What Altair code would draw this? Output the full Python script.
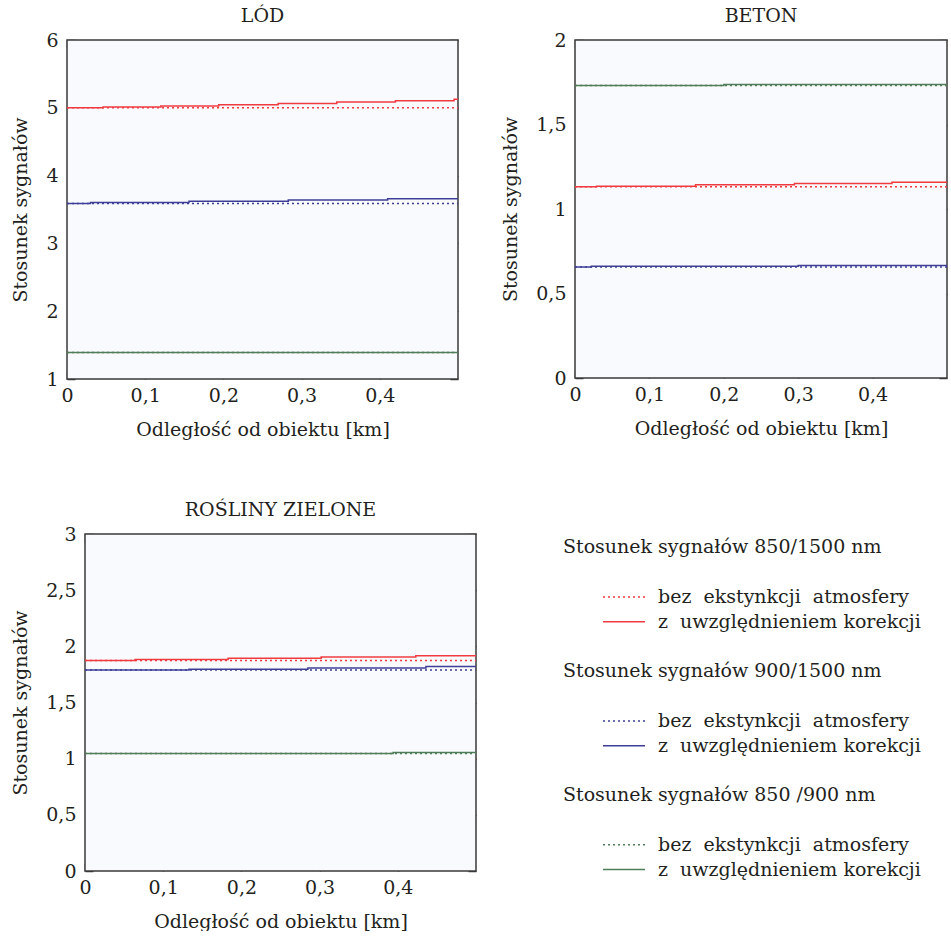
import altair as alt
import pandas as pd

FONT = "DejaVu Serif"
FS = 19
TXT = "#231f20"
FRAME = "#3a3a3a"
PLOT_BG = "#f9fafd"

# ---------------- data: LÓD ----------------
lod_red_corr_x = [0, 0.046, 0.12, 0.194, 0.27, 0.345, 0.42, 0.495, 0.5]
lod_red_corr_y = [5.0, 5.01, 5.025, 5.045, 5.065, 5.085, 5.105, 5.125, 5.125]
lod_red_raw_x = [0, 0.5]
lod_red_raw_y = [5.0, 5.0]
lod_blue_corr_x = [0, 0.03, 0.156, 0.283, 0.41, 0.5]
lod_blue_corr_y = [3.59, 3.605, 3.62, 3.64, 3.66, 3.66]
lod_blue_raw_x = [0, 0.5]
lod_blue_raw_y = [3.59, 3.59]
lod_green_corr_x = [0, 0.5]
lod_green_corr_y = [1.39, 1.39]
lod_green_raw_x = [0, 0.5]
lod_green_raw_y = [1.39, 1.39]

# ---------------- data: BETON ----------------
bet_red_corr_x = [0, 0.029, 0.162, 0.295, 0.426, 0.5]
bet_red_corr_y = [1.131, 1.135, 1.143, 1.151, 1.159, 1.159]
bet_red_raw_x = [0, 0.5]
bet_red_raw_y = [1.131, 1.131]
bet_blue_corr_x = [0, 0.022, 0.3, 0.5]
bet_blue_corr_y = [0.657, 0.661, 0.665, 0.665]
bet_blue_raw_x = [0, 0.5]
bet_blue_raw_y = [0.657, 0.657]
bet_green_corr_x = [0, 0.2, 0.5]
bet_green_corr_y = [1.731, 1.737, 1.737]
bet_green_raw_x = [0, 0.5]
bet_green_raw_y = [1.731, 1.731]

# ---------------- data: ROŚLINY ZIELONE ----------------
ros_red_corr_x = [0, 0.064, 0.183, 0.302, 0.423, 0.5]
ros_red_corr_y = [1.873, 1.882, 1.894, 1.905, 1.917, 1.917]
ros_red_raw_x = [0, 0.5]
ros_red_raw_y = [1.873, 1.873]
ros_blue_corr_x = [0, 0.133, 0.285, 0.436, 0.5]
ros_blue_corr_y = [1.79, 1.796, 1.808, 1.82, 1.82]
ros_blue_raw_x = [0, 0.5]
ros_blue_raw_y = [1.79, 1.79]
ros_green_corr_x = [0, 0.394, 0.5]
ros_green_corr_y = [1.045, 1.054, 1.054]
ros_green_raw_x = [0, 0.5]
ros_green_raw_y = [1.045, 1.045]

# ---------------- labels ----------------
panel_titles = ["LÓD", "BETON", "ROŚLINY ZIELONE"]
y_title = "Stosunek sygnałów"
x_title = "Odległość od obiektu [km]"
x_domain = [0, 0.5]
x_ticks = [0, 0.1, 0.2, 0.3, 0.4]
lod_y_domain = [1, 6]
bet_y_domain = [0, 2]
ros_y_domain = [0, 3]
lod_y_ticks = [1, 2, 3, 4, 5, 6]
bet_y_ticks = [0, 0.5, 1, 1.5, 2]
ros_y_ticks = [0, 0.5, 1, 1.5, 2, 2.5, 3]
series_keys = ["850/1500", "900/1500", "850/900"]
style_keys = ["bez", "z"]
legend_headings = ["Stosunek sygnałów 850/1500 nm",
                   "Stosunek sygnałów 900/1500 nm",
                   "Stosunek sygnałów 850 /900 nm"]
legend_labels = ["bez\u00a0 ekstynkcji\u00a0 atmosfery",
                 "z\u00a0 uwzględnieniem korekcji"]

COLORS = ["#ef3b40", "#3d3f97", "#4f7d58"]
color_scale = alt.Scale(domain=series_keys, range=COLORS)
dash_scale = alt.Scale(domain=style_keys, range=[[2, 3], [1, 0]])


def frame(parts):
    rows = []
    for key, style, xs, ys in parts:
        for x, y in zip(xs, ys):
            rows.append({"x": x, "y": y, "series": key, "style": style,
                         "sid": key + style})
    return pd.DataFrame(rows)


lod_df = frame([
    ("850/1500", "z", lod_red_corr_x, lod_red_corr_y),
    ("850/1500", "bez", lod_red_raw_x, lod_red_raw_y),
    ("900/1500", "z", lod_blue_corr_x, lod_blue_corr_y),
    ("900/1500", "bez", lod_blue_raw_x, lod_blue_raw_y),
    ("850/900", "z", lod_green_corr_x, lod_green_corr_y),
    ("850/900", "bez", lod_green_raw_x, lod_green_raw_y),
])
bet_df = frame([
    ("850/1500", "z", bet_red_corr_x, bet_red_corr_y),
    ("850/1500", "bez", bet_red_raw_x, bet_red_raw_y),
    ("900/1500", "z", bet_blue_corr_x, bet_blue_corr_y),
    ("900/1500", "bez", bet_blue_raw_x, bet_blue_raw_y),
    ("850/900", "z", bet_green_corr_x, bet_green_corr_y),
    ("850/900", "bez", bet_green_raw_x, bet_green_raw_y),
])
ros_df = frame([
    ("850/1500", "z", ros_red_corr_x, ros_red_corr_y),
    ("850/1500", "bez", ros_red_raw_x, ros_red_raw_y),
    ("900/1500", "z", ros_blue_corr_x, ros_blue_corr_y),
    ("900/1500", "bez", ros_blue_raw_x, ros_blue_raw_y),
    ("850/900", "z", ros_green_corr_x, ros_green_corr_y),
    ("850/900", "bez", ros_green_raw_x, ros_green_raw_y),
])

LBL = "replace(datum.label, '.', ',')"


def panel(df, title, y_dom, y_ticks, W, H, shift=0):
    """W = visible plot width; shift = blank margin (px) left of the plot
    inside the cell, used so that the panels in one column need not align."""
    GW = W + shift
    x_lo = x_domain[0] - (x_domain[1] - x_domain[0]) * shift / W
    xs = alt.Scale(domain=[x_lo, x_domain[1]], nice=False, zero=False)
    ys = alt.Scale(domain=y_dom, nice=False, zero=False)

    def tick_axis(orient, off, vals):
        return alt.Axis(orient=orient, offset=off, values=vals, labels=False,
                        domain=False, grid=False, ticks=True, tickSize=8,
                        tickWidth=1.5, tickColor=FRAME, title=None, minExtent=0)

    box = pd.DataFrame({"x0": [x_domain[0]], "x1": [x_domain[1]],
                        "y0": [y_dom[0]], "y1": [y_dom[1]]})
    back = alt.Chart(box).mark_rect(fill=PLOT_BG, stroke=FRAME, strokeWidth=1.5).encode(
        x=alt.X("x0:Q", scale=xs, axis=tick_axis("top", -H, x_ticks)),
        x2="x1:Q",
        y=alt.Y("y0:Q", scale=ys, axis=tick_axis("right", shift - GW, y_ticks)),
        y2="y1:Q",
    )
    main = alt.Chart(df).mark_line(interpolate="step-after", strokeWidth=1.5).encode(
        x=alt.X("x:Q", scale=xs, axis=alt.Axis(
            orient="bottom",
            values=x_ticks, format="~g", labelExpr=LBL, ticks=False, domain=False,
            grid=False, labelFont=FONT, labelFontSize=FS, labelColor=TXT,
            labelPadding=7, labelFlush=False, labelOverlap=False,
            title=x_title, titleFont=FONT, titleFontSize=FS, titleFontWeight="normal",
            titleColor=TXT, titlePadding=15, minExtent=0,
            titleX=shift + W / 2, titleAlign="center")),
        y=alt.Y("y:Q", scale=ys, axis=alt.Axis(
            orient="left", offset=-shift,
            values=y_ticks, format="~g", labelExpr=LBL, ticks=False, domain=False,
            grid=False, labelFont=FONT, labelFontSize=FS, labelColor=TXT,
            labelPadding=9, labelFlush=False, labelOverlap=False,
            title=y_title, titleFont=FONT, titleFontSize=FS, titleFontWeight="normal",
            titleColor=TXT, titlePadding=15, minExtent=0)),
        color=alt.Color("series:N", scale=color_scale, legend=None),
        strokeDash=alt.StrokeDash("style:N", scale=dash_scale, legend=None),
        detail="sid:N",
    )
    ticks2 = alt.Chart(df).mark_line(opacity=0).encode(
        x=alt.X("x:Q", scale=xs, axis=tick_axis("bottom", -H, x_ticks)),
        y=alt.Y("y:Q", scale=ys, axis=tick_axis("left", -GW, y_ticks)),
        detail="sid:N",
    )
    return alt.layer(back, main, ticks2).resolve_scale(
        x="independent", y="independent"
    ).properties(
        width=GW, height=H,
        title=alt.TitleParams(title, font=FONT, fontSize=FS, fontWeight="normal",
                              color=TXT, frame="group", anchor="middle", offset=5,
                              dx=shift / 2),
        view=alt.ViewBackground(fill=None, stroke=None),
    )


p1 = panel(lod_df, panel_titles[0], lod_y_domain, lod_y_ticks, 391, 339)
p2 = panel(bet_df, panel_titles[1], bet_y_domain, bet_y_ticks, 372, 338)
p3 = panel(ros_df, panel_titles[2], ros_y_domain, ros_y_ticks, 391, 337, shift=18)

# ---------------- custom legend ----------------
leg_rows = []
for k, (hd, key) in enumerate(zip(legend_headings, series_keys)):
    leg_rows.append({"row": 5 * k, "kind": "head", "text": hd, "series": key, "style": ""})
    for j, (lab, st) in enumerate(zip(legend_labels, style_keys)):
        leg_rows.append({"row": 5 * k + 2 + j, "kind": "item", "text": lab,
                         "series": key, "style": st})
leg_df = pd.DataFrame(leg_rows)
row_scale = alt.Scale(domain=list(range(14)))

LX = 62  # left inset of the legend block inside its cell
leg_base = alt.Chart(leg_df)
heads = leg_base.transform_filter(alt.datum.kind == "head").mark_text(
    align="left", baseline="middle", font=FONT, fontSize=FS, color=TXT
).encode(x=alt.value(LX), y=alt.Y("row:O", scale=row_scale, axis=None), text="text:N")
items = leg_base.transform_filter(alt.datum.kind == "item").mark_text(
    align="left", baseline="middle", font=FONT, fontSize=FS, color=TXT
).encode(x=alt.value(LX + 95), y=alt.Y("row:O", scale=row_scale, axis=None), text="text:N")
samples = leg_base.transform_filter(alt.datum.kind == "item").mark_rule(
    strokeWidth=1.5
).encode(
    x=alt.value(LX + 40), x2=alt.value(LX + 82),
    y=alt.Y("row:O", scale=row_scale, axis=None),
    color=alt.Color("series:N", scale=color_scale, legend=None),
    strokeDash=alt.StrokeDash("style:N", scale=dash_scale, legend=None),
)
legend = alt.layer(samples, heads, items).properties(
    width=380, height=347, view=alt.ViewBackground(stroke=None, fill=None),
    title=alt.TitleParams(" ", font=FONT, fontSize=FS, fontWeight="normal",
                          color=TXT, frame="group", anchor="middle", offset=14.5),
)

chart = alt.concat(
    p1, p2, p3, legend, columns=2, align="none",
    spacing={"row": 62, "column": 22},
).properties(
    padding={"left": 11, "top": 7, "right": 0, "bottom": 0},
    background="white",
).configure_view(stroke=None)

chart.save("out.html", embed_options={"renderer": "svg", "actions": False})
